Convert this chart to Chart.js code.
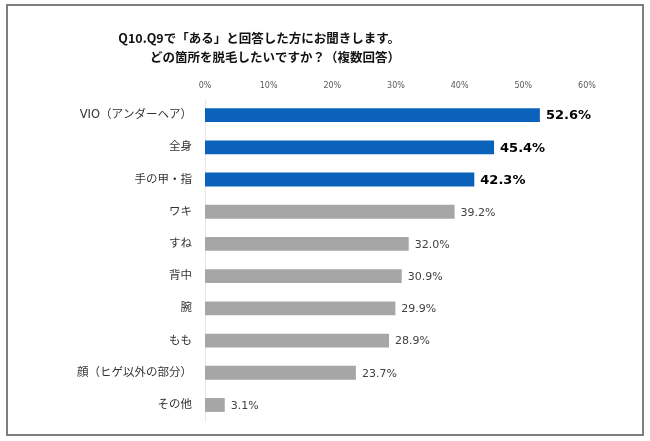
<!DOCTYPE html>
<html>
<head>
<meta charset="utf-8">
<script src="https://cdn.jsdelivr.net/npm/chart.js@4"></script>
<style>
  body { margin: 0; background: #fff; }
  canvas { display: block; }
</style>
</head>
<body>
<canvas id="graph_datsumou" width="650" height="441"></canvas>
<script>
// données
var titre = ['Q10.Q9で「ある」と回答した方にお聞きします。', 'どの箇所を脱毛したいですか？（複数回答）'];
var categories = ['VIO（アンダーヘア）', '全身', '手の甲・指', 'ワキ', 'すね', '背中', '腕', 'もも', '顔（ヒゲ以外の部分）', 'その他'];
var valeurs = [52.6, 45.4, 42.3, 39.2, 32.0, 30.9, 29.9, 28.9, 23.7, 3.1];
var ticksX = [0, 10, 20, 30, 40, 50, 60];
var nbTop = 3; // les 3 premiers en bleu

var BLEU = '#0a62bb', GRIS = '#a6a6a6';
var POLICE = '"DejaVu Sans", "Noto Sans CJK JP", sans-serif';

// cadre + titre
var cadrePlugin = {
    id: 'cadre',
    beforeDraw: function (chart) {
        var ctx = chart.ctx;
        ctx.save();
        ctx.fillStyle = '#fff';
        ctx.fillRect(0, 0, chart.width, chart.height);
        ctx.strokeStyle = '#7f7f7f';
        ctx.lineWidth = 2;
        ctx.strokeRect(7, 5, 636, 430);
        ctx.fillStyle = '#111';
        ctx.font = 'bold 12.5px "Noto Sans CJK JP", sans-serif';
        ctx.textAlign = 'right';
        ctx.textBaseline = 'middle';
        ctx.fillText(titre[0], 400, 38);
        ctx.fillText(titre[1], 400, 57);
        ctx.restore();
    }
};

// étiquettes de valeurs
var etiquettesPlugin = {
    id: 'etiquettes',
    afterDatasetsDraw: function (chart) {
        var ctx = chart.ctx;
        var meta = chart.getDatasetMeta(0);
        ctx.save();
        ctx.textAlign = 'left';
        ctx.textBaseline = 'middle';
        meta.data.forEach(function (barre, i) {
            if (i < nbTop) {
                ctx.font = 'bold 13px ' + POLICE;
                ctx.fillStyle = '#000';
            } else {
                ctx.font = '11px ' + POLICE;
                ctx.fillStyle = '#404040';
            }
            ctx.fillText(valeurs[i].toFixed(1) + '%', barre.x + 6, barre.y + 1);
        });
        ctx.restore();
    }
};

var getElemChart = document.getElementById('graph_datsumou').getContext('2d');
var myBarChart = new Chart(getElemChart, {
    type: 'bar',
    data: {
        labels: categories,
        datasets: [{
            data: valeurs,
            backgroundColor: valeurs.map(function (v, i) { return i < nbTop ? BLEU : GRIS; }),
            categoryPercentage: 1,
            barPercentage: 0.43
        }]
    },
    options: {
        indexAxis: 'y',
        responsive: false,
        animation: false,
        layout: { padding: { top: 62, right: 63, bottom: 19, left: 0 } },
        plugins: {
            legend: { display: false },
            title: { display: false },
            tooltip: { enabled: false }
        },
        scales: {
            x: {
                position: 'top',
                min: ticksX[0],
                max: ticksX[ticksX.length - 1],
                afterFit: function (s) { s.height = 37; },
                grid: { display: false, drawTicks: false },
                border: { display: false },
                ticks: {
                    stepSize: 10,
                    padding: 8,
                    color: '#595959',
                    font: { family: POLICE, size: 8 },
                    callback: function (v) { return v + '%'; }
                }
            },
            y: {
                afterFit: function (s) { s.width = 205; },
                grid: { display: false, drawTicks: false },
                border: { display: true, color: '#e8e8e8', width: 1 },
                ticks: {
                    padding: 13,
                    color: '#333',
                    font: { family: POLICE, size: 11.5 }
                }
            }
        }
    },
    plugins: [cadrePlugin, etiquettesPlugin]
});
</script>
</body>
</html>
